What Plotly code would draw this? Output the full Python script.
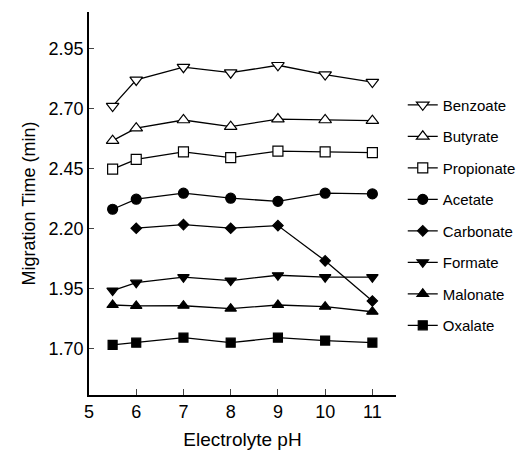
import plotly.graph_objects as go

ph = [5.5, 6, 7, 8, 9, 10, 11]
ph_carb = [6, 7, 8, 9, 10, 11]

benzoate = [2.712, 2.821, 2.874, 2.851, 2.882, 2.843, 2.812]
butyrate = [2.568, 2.620, 2.654, 2.626, 2.658, 2.654, 2.651]
propionate = [2.449, 2.490, 2.521, 2.497, 2.524, 2.521, 2.518]
acetate = [2.282, 2.324, 2.349, 2.328, 2.315, 2.349, 2.346]
carbonate = [2.203, 2.218, 2.203, 2.214, 2.067, 1.900]
formate = [1.943, 1.976, 1.999, 1.985, 2.007, 1.999, 1.999]
malonate = [1.883, 1.879, 1.880, 1.868, 1.883, 1.876, 1.855]
oxalate = [1.717, 1.726, 1.747, 1.726, 1.747, 1.735, 1.726]

y_ticks = [1.70, 1.95, 2.20, 2.45, 2.70, 2.95]
x_ticks = [5, 6, 7, 8, 9, 10, 11]

series = [
    ("Benzoate", ph, benzoate, "triangle-down", "white", 11),
    ("Butyrate", ph, butyrate, "triangle-up", "white", 11),
    ("Propionate", ph, propionate, "square", "white", 10),
    ("Acetate", ph, acetate, "circle", "black", 10),
    ("Carbonate", ph_carb, carbonate, "diamond", "black", 8),
    ("Formate", ph, formate, "triangle-down", "black", 10),
    ("Malonate", ph, malonate, "triangle-up", "black", 10),
    ("Oxalate", ph, oxalate, "square", "black", 9),
]

fig = go.Figure()
for name, xs, ys, sym, fill, size in series:
    fig.add_trace(go.Scatter(
        x=xs, y=ys, name=name, mode="lines+markers", legendgroup=name,
        line=dict(color="black", width=1.3),
        marker=dict(symbol=sym, size=size, color=fill,
                    line=dict(color="black", width=1.2)),
    ))

font_family = "Liberation Sans, Arial, sans-serif"
fig.update_layout(
    width=521, height=450,
    margin=dict(l=89, r=125, t=12, b=55, autoexpand=False),
    paper_bgcolor="white", plot_bgcolor="white",
    font=dict(family=font_family, color="black", size=18),
    legend=dict(x=1.022, y=0.8, xanchor="left", yanchor="top",
                font=dict(size=15), tracegroupgap=9,
                bgcolor="rgba(0,0,0,0)", itemwidth=30),
    xaxis=dict(range=[5, 11.5], tickvals=x_ticks, ticks="inside", ticklen=6,
               showline=True, linecolor="black", linewidth=1.5,
               showgrid=False, zeroline=False, automargin=False,
               title=dict(text="Electrolyte pH", standoff=16, font=dict(size=19)),
               tickfont=dict(size=18)),
    yaxis=dict(range=[1.508, 3.104], tickvals=y_ticks, tickformat=".2f",
               ticks="inside", ticklen=5,
               showline=True, linecolor="black", linewidth=1.5,
               showgrid=False, zeroline=False, automargin=False,
               title=dict(text="Migration Time (min)", standoff=8, font=dict(size=18)),
               tickfont=dict(size=18)),
)

fig.write_html("out.html")
